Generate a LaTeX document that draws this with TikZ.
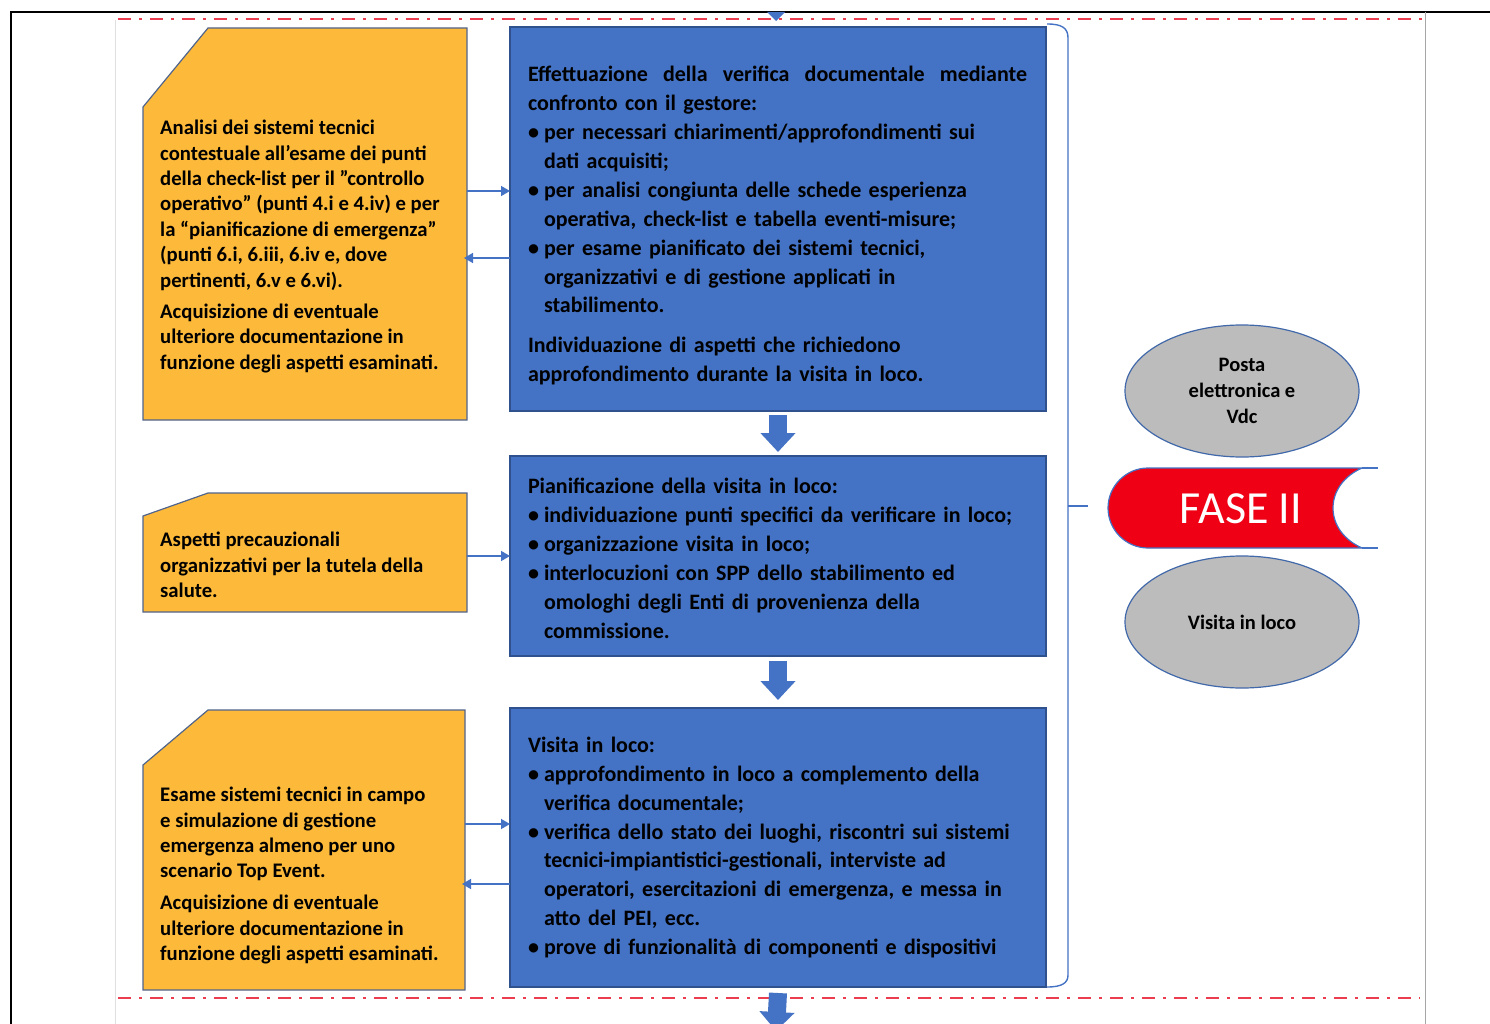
\documentclass[tikz,border=0pt]{standalone}
\usepackage{fontspec}
\setmainfont{Carlito}
\usetikzlibrary{arrows.meta,calc,backgrounds,shapes.geometric}
\definecolor{bfill}{RGB}{68,114,196}
\definecolor{bline}{RGB}{47,82,143}
\definecolor{yfill}{RGB}{253,186,58}
\definecolor{yline}{RGB}{80,100,140}
\definecolor{gfill}{RGB}{188,188,188}
\definecolor{eline}{RGB}{65,105,170}
\definecolor{rdash}{RGB}{236,60,80}
\definecolor{fred}{RGB}{240,0,20}
\begin{document}
\begin{tikzpicture}[x=1pt,y=-1pt,
  bluebox/.style={draw=bline, line width=1.2pt, fill=bfill, minimum width=536pt,
    text width=500pt, inner xsep=18pt, inner ysep=0pt, outer sep=0pt, align=left,
    font=\fontsize{22}{28.9}\selectfont\bfseries, anchor=north west, text=black},
  yshape/.style={minimum width=324pt, inner sep=0pt, outer sep=0pt, anchor=north west},
  ypoly/.style={fill=yfill, draw=yline, line width=1.2pt},
  ytext/.style={anchor=north west, inner sep=0pt, align=left,
    font=\fontsize{20.7}{25.4}\selectfont\bfseries, text=black},
  ell/.style={ellipse, draw=eline, line width=1.2pt, fill=gfill, minimum width=234pt,
    minimum height=132pt, inner sep=0pt, align=center,
    font=\fontsize{20.5}{26}\selectfont\bfseries},
  fat/.style={draw=bfill, line width=18pt, -{Triangle[width=34pt,length=19pt]}},
  thin/.style={draw=bfill, line width=1.5pt, -{Triangle[width=10pt,length=9pt]}},
  reddash/.style={draw=rdash, line width=2.6pt, dash pattern=on 13pt off 8pt on 3pt off 8pt}]
\useasboundingbox (0,0) rectangle (1490,1024);
% page frame
\draw[black, line width=1.2pt] (11,1024) -- (11,12) -- (1490,12);
\draw[gray!70, line width=1pt] (1425,12) -- (1425,1024);
\draw[gray!25, line width=0.6pt] (115,20) -- (115,1024);
% red separators
\draw[reddash] (118,19) -- (1425,19);
\draw[reddash] (118,998) -- (1420,998);
% incoming arrow tip
\fill[bfill] (767,12) -- (785,12) -- (776,21) -- cycle;

% blue boxes
\node[bluebox, minimum height=384pt] (b1) at (510,27) {%
\rule{0pt}{29pt}\makebox[499pt][l]{Effettuazione\hfill della\hfill verifica\hfill documentale\hfill mediante}\\
confronto con il gestore:\\
\makebox[16pt][l]{\textbullet}per necessari chiarimenti/approfondimenti sui\\
\hspace*{16pt}dati acquisiti;\\
\makebox[16pt][l]{\textbullet}per analisi congiunta delle schede esperienza\\
\hspace*{16pt}operativa, check-list e tabella eventi-misure;\\
\makebox[16pt][l]{\textbullet}per esame pianificato dei sistemi tecnici,\\
\hspace*{16pt}organizzativi e di gestione applicati in\\
\hspace*{16pt}stabilimento.\\[11pt]
Individuazione di aspetti che richiedono\\
approfondimento durante la visita in loco.};

\node[bluebox, minimum height=200pt] (b2) at (510,456) {%
\rule{0pt}{20pt}Pianificazione della visita in loco:\\
\makebox[16pt][l]{\textbullet}individuazione punti specifici da verificare in loco;\\
\makebox[16pt][l]{\textbullet}organizzazione visita in loco;\\
\makebox[16pt][l]{\textbullet}interlocuzioni con SPP dello stabilimento ed\\
\hspace*{16pt}omologhi degli Enti di provenienza della\\
\hspace*{16pt}commissione.};

\node[bluebox, minimum height=279pt] (b3) at (510,708) {%
Visita in loco:\\
\makebox[16pt][l]{\textbullet}approfondimento in loco a complemento della\\
\hspace*{16pt}verifica documentale;\\
\makebox[16pt][l]{\textbullet}verifica dello stato dei luoghi, riscontri sui sistemi\\
\hspace*{16pt}tecnici-impiantistici-gestionali, interviste ad\\
\hspace*{16pt}operatori, esercitazioni di emergenza, e messa in\\
\hspace*{16pt}atto del PEI, ecc.\\
\makebox[16pt][l]{\textbullet}prove di funzionalità di componenti e dispositivi};

% yellow boxes
\node[yshape, minimum height=392pt] (y1) at (143,28) {};
\path[ypoly] (y1.south west) -- ($(y1.north west)+(0,79)$) -- ($(y1.north west)+(65,0)$)
  -- (y1.north east) -- (y1.south east) -- cycle;
\node[ytext] (y1t) at (160,120) {%
Analisi dei sistemi tecnici\\
contestuale all’esame dei punti\\
della check-list per il "controllo\\
operativo” (punti 4.i e 4.iv) e per\\
la “pianificazione di emergenza”\\
(punti 6.i, 6.iii, 6.iv e, dove\\
pertinenti, 6.v e 6.vi).\\[6pt]
Acquisizione di eventuale\\
ulteriore documentazione in\\
funzione degli aspetti esaminati.};

\node[yshape, minimum height=119pt] (y2) at (143,493) {};
\path[ypoly] (y2.south west) -- ($(y2.north west)+(0,23)$) -- ($(y2.north west)+(65,0)$)
  -- (y2.north east) -- (y2.south east) -- cycle;
\node[ytext] (y2t) at (160,532) {%
Aspetti precauzionali\\
organizzativi per la tutela della\\
salute.};

\node[yshape, minimum width=322pt, minimum height=280pt] (y3) at (143,710) {};
\path[ypoly] (y3.south west) -- ($(y3.north west)+(0,55)$) -- ($(y3.north west)+(65,0)$)
  -- (y3.north east) -- (y3.south east) -- cycle;
\node[ytext] (y3t) at (160,787) {%
Esame sistemi tecnici in campo\\
e simulazione di gestione\\
emergenza almeno per uno\\
scenario Top Event.\\[6.6pt]
Acquisizione di eventuale\\
ulteriore documentazione in\\
funzione degli aspetti esaminati.};

% thin connectors
\coordinate (h1) at (0,191);
\coordinate (h2) at (0,258);
\coordinate (h3) at (0,556);
\coordinate (h4) at (0,824);
\coordinate (h5) at (0,884);
\draw[thin] (y1.east |- h1) -- (b1.west |- h1);
\draw[thin] (b1.west |- h2) -- ([xshift=-3pt]y1.east |- h2);
\draw[thin] (y2.east |- h3) -- (b2.west |- h3);
\draw[thin] (y3.east |- h4) -- (b3.west |- h4);
\draw[thin] (b3.west |- h5) -- ([xshift=-3pt]y3.east |- h5);

% fat arrows
\draw[fat] ($(b1.south)+(0,4)$) -- ($(b2.north)+(0,-4)$);
\draw[fat] ($(b2.south)+(0,5)$) -- ($(b3.north)+(0,-8)$);
\coordinate (out) at (776,1031);
\draw[fat] ($(b3.south)+(0,6)$) -- (out);

% brace
\draw[bfill, line width=1.4pt] (1047,24) .. controls (1062,24) and (1068,28) .. (1068,38)
  -- (1068,975) .. controls (1068,983) and (1062,987) .. (1047,987);
\draw[bfill, line width=1.6pt] (1068,506) -- (1088,506);

% ellipses
\node[ell] (e1) at (1242,391) {Posta\\elettronica e\\Vdc};
\node[ell] (e2) at (1242,622) {Visita in loco};

% FASE II
\node[minimum width=270pt, minimum height=80pt, inner sep=0pt, text=white,
  font=\fontsize{46}{46}\selectfont] (fase) at (1241,509) {FASE II};
\begin{scope}[on background layer]
\filldraw[fill=fred, draw=bfill, line width=1.2pt]
  (1362,468) -- (1148,468) .. controls (1126,468) and (1108,486) .. (1108,508)
  .. controls (1108,530) and (1126,548) .. (1148,548) -- (1362,548)
  .. controls (1344,540) and (1333,525) .. (1333,508)
  .. controls (1333,491) and (1344,476) .. (1362,468) -- cycle;
\draw[bfill, line width=1.2pt] (1362,468) -- (1378,468);
\draw[bfill, line width=1.2pt] (1362,548) -- (1378,548);
\end{scope}
\end{tikzpicture}
\end{document}
